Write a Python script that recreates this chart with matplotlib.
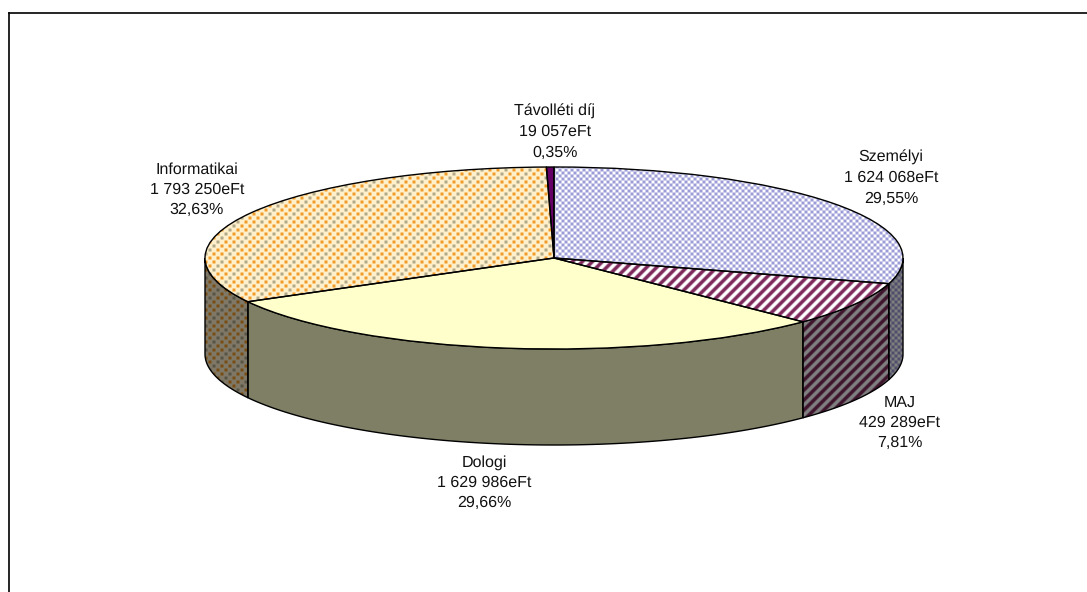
import matplotlib
matplotlib.use("Agg")
import matplotlib.pyplot as plt
import numpy as np
from matplotlib.patches import Polygon

plt.rcParams['font.family'] = ['Liberation Sans', 'DejaVu Sans']
plt.rcParams['text.hinting'] = 'no_hinting'
plt.rcParams['text.hinting_factor'] = 1

W, H = 1087, 592

# chart data, clockwise from 12 o'clock
categories = ['Személyi', 'MAJ', 'Dologi', 'Informatikai', 'Távolléti díj']
values = [1624068, 429289, 1629986, 1793250, 19057]
percents = ['29,55%', '7,81%', '29,66%', '32,63%', '0,35%']
label_pos = [(891, 178), (900, 423), (484, 483), (197, 190), (555, 132)]

# ellipse geometry in pixels
CX, CY, RX, RY, DEPTH = 554, 258, 349, 91, 96


def soften(img):
    # the original pattern is a bit blurred by scaling
    return (img + np.roll(img, 1, 0) + np.roll(img, 1, 1) + np.roll(np.roll(img, 1, 0), 1, 1)) / 4


def checker(c1, c2):
    yy, xx = np.mgrid[0:H, 0:W]
    mask = ((xx // 3 + yy // 3) % 2 == 0)
    img = np.ones((H, W, 3)) * np.array(c2)
    img[mask] = c1
    return soften(img)


def stripes(c1, c2):
    yy, xx = np.mgrid[0:H, 0:W]
    mask = ((xx + yy) % 10 < 5)
    img = np.ones((H, W, 3)) * np.array(c2)
    img[mask] = c1
    return soften(img)


def dots(bg, c1, c2):
    yy, xx = np.mgrid[0:H, 0:W]
    img = np.ones((H, W, 3)) * np.array(bg)
    m1 = (xx % 8 < 3) & (yy % 8 < 3)
    m2 = ((xx + 4) % 8 < 3) & ((yy + 4) % 8 < 3)
    img[m1] = c1
    img[m2] = c1
    gray = (m1 | m2) & ((xx // 4 + yy // 4) % 6 == 0)
    img[gray] = c2
    return soften(img)


def flat(c):
    return np.ones((H, W, 3)) * np.array(c)


def rgb(s):
    return [int(s[i:i + 2], 16) / 255 for i in (0, 2, 4)]


tops = [
    checker(rgb('9c9cd8'), rgb('ffffff')),
    stripes(rgb('7f2a5c'), rgb('ffffff')),
    flat(rgb('ffffcc')),
    dots(rgb('fff0cc'), rgb('f09a28'), rgb('b0a888')),
    flat(rgb('660066')),
]

fig = plt.figure(figsize=(W / 100, H / 100), dpi=100)
ax = fig.add_axes([0, 0, 1, 1])

wedges, _ = ax.pie(values, startangle=90, counterclock=False, radius=1,
                   wedgeprops=dict(edgecolor='black', linewidth=1.0, facecolor='none'))
ax.set_aspect('auto')
ax.axis('off')

extent = [(0 - CX) / RX, (W - CX) / RX, (CY - H) / RY, CY / RY]
depth = DEPTH / RY
fracs = np.cumsum([0] + values) / sum(values) * 2 * np.pi

# side walls, only the front half is seen
for i in range(len(values)):
    a0 = max(fracs[i], np.pi / 2)
    a1 = min(fracs[i + 1], 3 * np.pi / 2)
    if a1 <= a0:
        continue
    t = np.linspace(a0, a1, 200)
    x, y = np.sin(t), np.cos(t)
    pts = np.vstack([np.c_[x, y], np.c_[x[::-1], y[::-1] - depth]])
    poly = Polygon(pts, closed=True, facecolor='none', edgecolor='black', linewidth=1.0, zorder=3)
    ax.add_patch(poly)
    im = ax.imshow(tops[i] * 0.5, extent=extent, interpolation='nearest', aspect='auto', zorder=2)
    im.set_clip_path(poly)

# top faces
for i, w in enumerate(wedges):
    w.set_zorder(5)
    im = ax.imshow(tops[i], extent=extent, interpolation='nearest', aspect='auto', zorder=4)
    im.set_clip_path(w)

ax.set_xlim((0 - CX) / RX, (W - CX) / RX)
ax.set_ylim((CY - H) / RY, CY / RY)

# labels
for name, val, pct, (px, py) in zip(categories, values, percents, label_pos):
    s = f"{val:,}".replace(',', ' ')
    fig.text(px / W, 1 - py / H, f"{name}\n{s}eFt\n{pct}", ha='center', va='center',
             fontsize=11.2, linespacing=1.46, color='#111111')

# chart area border, only top and left fall inside the picture
fig.add_artist(plt.Line2D([8.5 / W, 8.5 / W], [0, 1 - 12.5 / H], color='black', lw=1.2))
fig.add_artist(plt.Line2D([8.5 / W, 1], [1 - 12.5 / H, 1 - 12.5 / H], color='black', lw=1.2))

fig.savefig('out.png', dpi=100)
